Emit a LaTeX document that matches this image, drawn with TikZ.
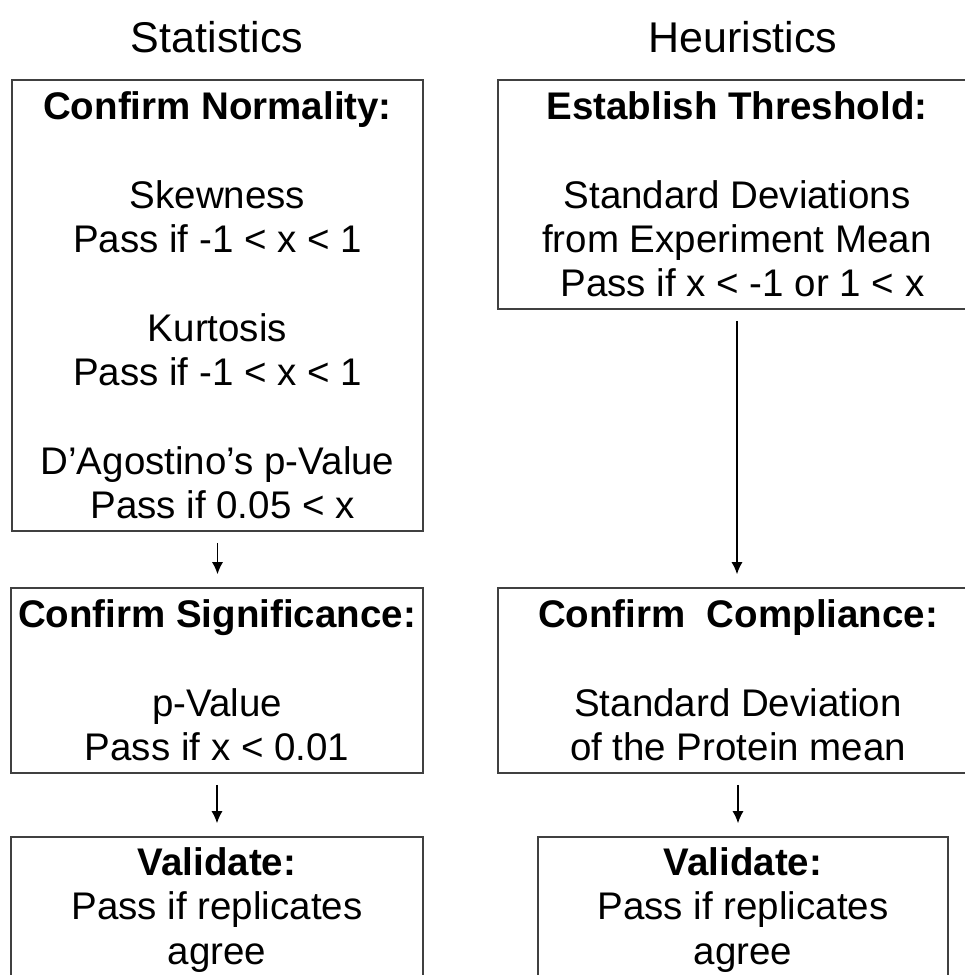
\documentclass[tikz,border=0pt]{standalone}
\usepackage{fontspec}
\setmainfont{Liberation Sans}
\usetikzlibrary{arrows.meta}

\begin{document}
\begin{tikzpicture}
  [x=1pt,y=-1pt,
   every node/.style={inner sep=0pt,align=center,font=\fontsize{38.5}{44.3}\selectfont},
   box/.style={draw=black!75,line width=1.6pt},
   head/.style={font=\fontsize{43}{50}\selectfont},
   flow/.style={-{Latex[length=12pt,width=11pt]},line width=1.3pt,shorten <=11pt,shorten >=13pt}]
  \useasboundingbox (0,0) rectangle (965,975);
  \clip (0,0) rectangle (965,975);

  \node[head] (t1) at (217,37) {Statistics};
  \node[head] (t2) at (743,37) {Heuristics};

  \node[box,minimum width=411pt,minimum height=451pt] (s1) at (217.5,305.5)
    {\textbf{Confirm Normality:}\\[44.3pt]Skewness\\Pass if -1 < x < 1\\[44.3pt]Kurtosis\\Pass if -1 < x < 1\\[44.3pt]D’Agostino’s p-Value\\\hspace*{10pt}Pass if 0.05 < x};
  \node[box,minimum width=412pt,minimum height=185pt] (s2) at (217,680.5)
    {\textbf{Confirm Significance:}\\[44.3pt]p-Value\\Pass if x < 0.01};
  \node[box,minimum width=412pt,minimum height=146pt] (s3) at (217,910)
    {\textbf{Validate:}\\Pass if replicates\\agree};

  \node[box,minimum width=478pt,minimum height=229pt] (h1) at (737,194.5)
    {\textbf{Establish Threshold:}\\[44.3pt]Standard Deviations\\from Experiment Mean\\\hspace*{11pt}Pass if x < -1 or 1 < x};
  \node[box,minimum width=480pt,minimum height=185pt] (h2) at (738,680.5)
    {\textbf{Confirm~~Compliance:}\\[44.3pt]Standard Deviation\\of the Protein mean};
  \node[box,minimum width=410pt,minimum height=146pt] (h3) at (743,910)
    {\textbf{Validate:}\\Pass if replicates\\agree};

  \foreach \from/\to in {s1/s2,s2/s3,h1/h2,h2/h3}
    \draw[flow] (\from.south) -- (\from.south |- \to.north);
\end{tikzpicture}
\end{document}
